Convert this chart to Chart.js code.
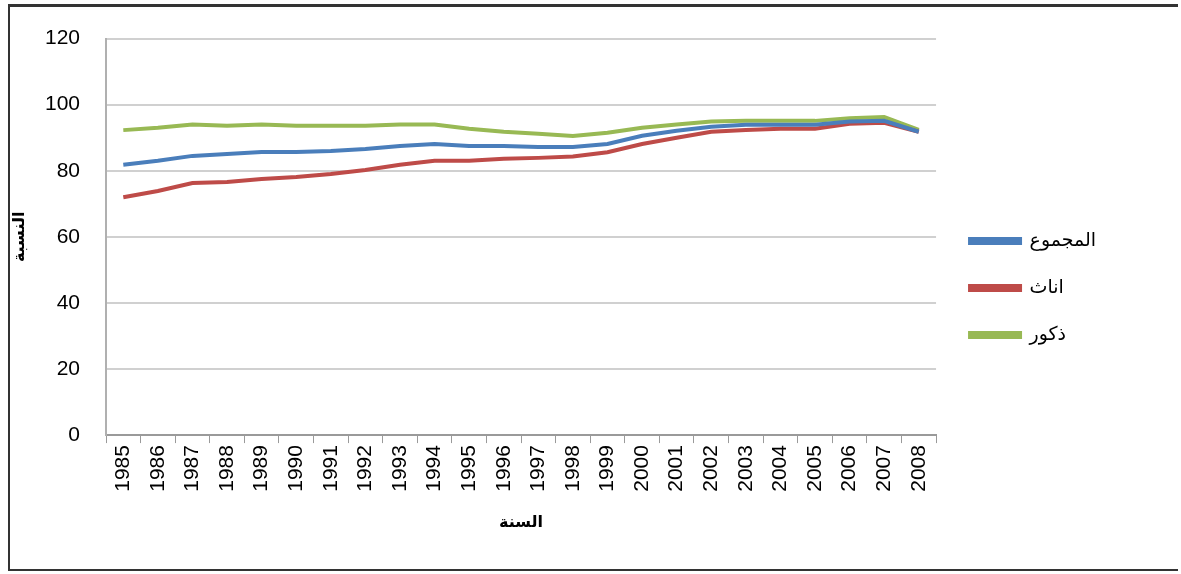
<!DOCTYPE html>
<html><head><meta charset="utf-8">
<script src="https://cdn.jsdelivr.net/npm/chart.js@4/dist/chart.umd.min.js"></script>
<style>
html,body{margin:0;padding:0;background:#fff;}
#frame{position:absolute;left:8px;top:4px;width:1170px;height:567px;border-top:3px solid #333;border-left:2px solid #333;border-bottom:2px solid #333;box-sizing:border-box;}
#wrap{position:absolute;left:0;top:0;width:1181px;height:574px;}
</style></head><body>
<div id="frame"></div>
<div id="wrap"><canvas id="c"></canvas></div>
<script>
const years = ['1985','1986','1987','1988','1989','1990','1991','1992','1993','1994','1995','1996','1997','1998','1999','2000','2001','2002','2003','2004','2005','2006','2007','2008'];
const total = [81.8,83,84.5,85.1,85.7,85.7,86,86.6,87.5,88.1,87.5,87.5,87.2,87.2,88.1,90.6,92.1,93.3,93.9,93.9,93.9,94.9,95.1,91.8];
const females = [72,73.9,76.3,76.6,77.5,78.1,79,80.2,81.8,83,83,83.6,83.9,84.3,85.6,88.1,90,91.8,92.3,92.7,92.7,94.2,94.5,91.8];
const males = [92.3,93,94,93.6,94,93.6,93.6,93.6,94,94,92.7,91.8,91.2,90.5,91.5,93,94,94.9,95.1,95.1,95.1,95.9,96.3,92.4];
const seriesNames = ['المجموع','اناث','ذكور'];
const yTitle = 'النسبة';
const xTitle = 'السنة';

const legendShift = {
  id: 'legendShift',
  afterLayout(chart) {
    const l = chart.legend;
    if (!l) return;
    l.left += 6; l.right += 6; l.top += 3; l.bottom += 3;
  }
};

new Chart(document.getElementById('c'), {
  type: 'line',
  data: {
    labels: years,
    datasets: [
      {label: seriesNames[0], data: total, borderColor: '#4a7ebb', backgroundColor: '#4a7ebb'},
      {label: seriesNames[1], data: females, borderColor: '#be4b48', backgroundColor: '#be4b48'},
      {label: seriesNames[2], data: males, borderColor: '#98b954', backgroundColor: '#98b954'}
    ]
  },
  plugins: [legendShift],
  options: {
    responsive: true,
    maintainAspectRatio: false,
    animation: false,
    elements: {line: {borderWidth: 4, tension: 0}, point: {radius: 0}},
    layout: {padding: {left: 8, top: 38, right: 81, bottom: 42}},
    plugins: {
      legend: {
        position: 'right',
        align: 'center',
        labels: {
          boxWidth: 50, boxHeight: 4, padding: 28,
          color: '#000',
          font: {family: 'DejaVu Sans', size: 19}
        }
      },
      tooltip: {enabled: false}
    },
    scales: {
      x: {
        offset: true,
        grid: {display: true, offset: true, drawOnChartArea: false, drawTicks: true, tickLength: 8, color: '#9a9a9a', lineWidth: 1},
        border: {display: true, color: '#9a9a9a', width: 2},
        ticks: {maxRotation: 90, minRotation: 90, color: '#000', font: {family: 'Liberation Sans', size: 21}, padding: 2},
        title: {display: true, text: xTitle, color: '#000', font: {family: 'DejaVu Sans', size: 16, weight: 'bold'}, padding: {top: 19, bottom: 0}}
      },
      y: {
        min: 0, max: 120,
        afterFit(scale) { scale.width = 98; },
        ticks: {stepSize: 20, color: '#000', font: {family: 'Liberation Sans', size: 21}, padding: 26},
        grid: {color: '#d0d0d0', lineWidth: 2, drawTicks: false},
        border: {display: true, color: '#b0b0b0', width: 2},
        title: {display: true, text: yTitle, color: '#000', font: {family: 'DejaVu Sans', size: 16, weight: 'bold'}, padding: {top: 2, bottom: 0}}
      }
    }
  }
});
</script>
</body></html>
